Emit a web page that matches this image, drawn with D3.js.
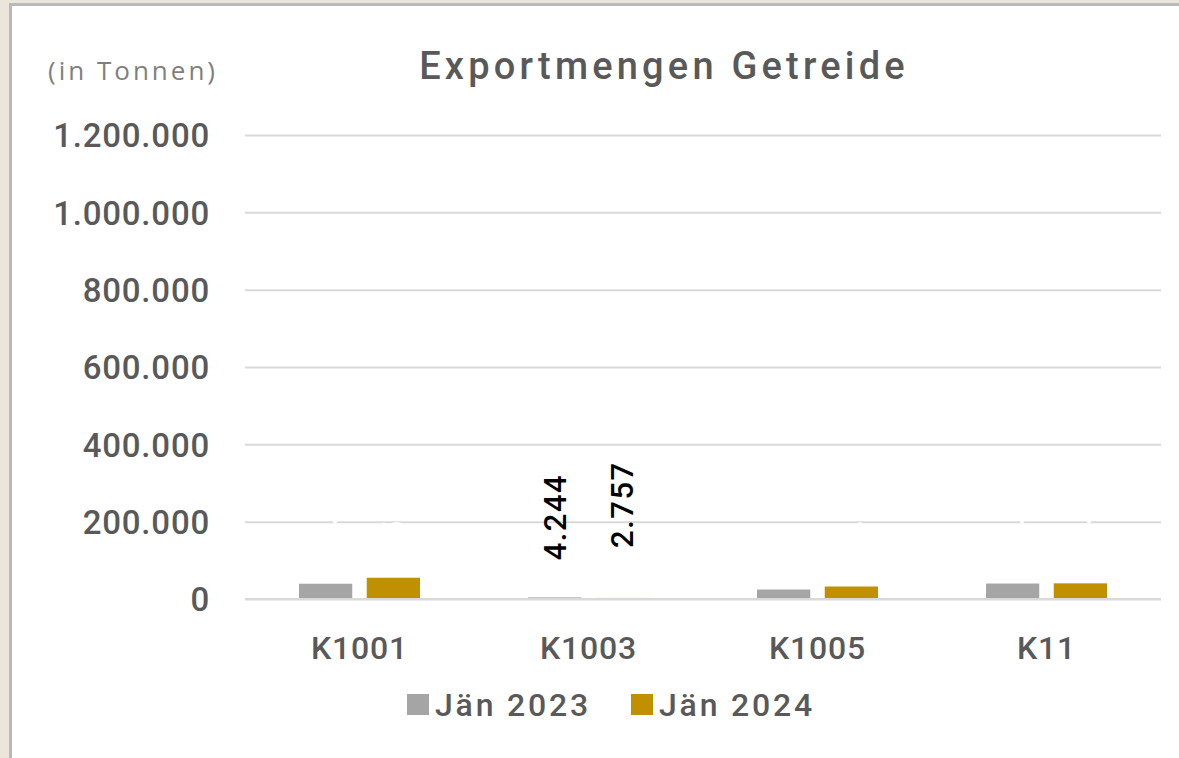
<!DOCTYPE html>
<html><head><meta charset="utf-8">
<script src="https://cdn.jsdelivr.net/npm/d3@7"></script>
<style>
html,body{margin:0;padding:0;background:#ece5db;}
svg{display:block;}
</style></head>
<body>
<script>
const categories = ["K1001", "K1003", "K1005", "K11"];
const seriesNames = ["Jän 2023", "Jän 2024"];
const values2023 = [39500, 4244, 24500, 40000];
const values2024 = [55000, 2757, 32300, 40500];
const yTicks = [0, 200000, 400000, 600000, 800000, 1000000, 1200000];
const labelColors = ["#ffffff", "#000000", "#ffffff", "#ffffff"];

const W = 1179, H = 758;
const colors = ["#a5a5a5", "#c09000"];
const svg = d3.select("body").append("svg").attr("width", W).attr("height", H);

// frame
svg.append("rect").attr("x", 0).attr("y", 0).attr("width", W).attr("height", H).attr("fill", "#ece5db");
svg.append("rect").attr("x", 10.5).attr("y", 4.5).attr("width", W).attr("height", H).attr("fill", "#ffffff")
  .attr("stroke", "#b9b9b9").attr("stroke-width", 3);

const x0 = d3.scaleBand().domain(categories).range([245, 1161]).paddingInner(0).paddingOuter(0);
const x1 = d3.scaleBand().domain(seriesNames).range([0, x0.bandwidth()]).paddingInner(0.214).paddingOuter(0.797);
const y = d3.scaleLinear().domain([0, 1200000]).range([599, 135]);

const fmt = d3.formatLocale({decimal: ",", thousands: ".", grouping: [3], currency: ["", "€"]}).format(",d");

const data = categories.map((c, i) => ({cat: c, vals: [values2023[i], values2024[i]], lc: labelColors[i]}));

// gridlines + y axis labels
const yAxis = d3.axisLeft(y).tickValues(yTicks).tickSize(-(1161 - 245)).tickFormat(fmt).tickPadding(36);
const gy = svg.append("g").attr("transform", "translate(245,0)").call(yAxis);
gy.select(".domain").remove();
gy.selectAll(".tick line").attr("stroke", "#d9d9d9").attr("stroke-width", 2);
gy.selectAll(".tick text").attr("fill", "#595959").style("font-family", "Roboto").style("font-size", "33px")
  .style("font-weight", "500").style("letter-spacing", "0.8px").attr("dx", "1px").attr("dy", "0.36em");

// bars
const labelOffsets = [37, 50];
const g = svg.append("g");
data.forEach(d => {
  d.vals.forEach((v, s) => {
    const bx = x0(d.cat) + x1(seriesNames[s]);
    g.append("rect").attr("x", bx).attr("y", y(v)).attr("width", x1.bandwidth())
      .attr("height", y(0) - y(v)).attr("fill", colors[s]);
  });
});
// x baseline
svg.append("line").attr("x1", 245).attr("x2", 1161).attr("y1", y(0)).attr("y2", y(0))
  .attr("stroke", "#d9d9d9").attr("stroke-width", 2);
// data labels
data.forEach(d => {
  d.vals.forEach((v, s) => {
    const cx = x0(d.cat) + x1(seriesNames[s]) + x1.bandwidth() / 2;
    const ly = y(v) - (d.lc === "#ffffff" ? 20 : labelOffsets[s]);
    svg.append("text").attr("transform", `translate(${cx + 11},${ly}) rotate(-90)`)
      .attr("text-anchor", "start").attr("fill", d.lc)
      .style("font-family", "Roboto").style("font-size", "31px").style("font-weight", "500").style("letter-spacing", "1.5px")
      .text(fmt(v));
  });
});

// x axis labels
const xAxis = d3.axisBottom(x0).tickSize(0).tickPadding(0);
const gx = svg.append("g").attr("transform", "translate(0,636)").call(xAxis);
gx.select(".domain").remove();
gx.selectAll(".tick text").attr("fill", "#595959").style("font-family", "Roboto").style("font-size", "32px")
  .style("font-weight", "500").style("letter-spacing", "0.8px").attr("dy", "0.71em");

// title
svg.append("text").attr("x", 664).attr("y", 79).attr("text-anchor", "middle").attr("fill", "#595959")
  .style("font-family", "Roboto").style("font-size", "38px").style("font-weight", "500").style("letter-spacing", "4.2px")
  .text("Exportmengen Getreide");
svg.append("text").attr("x", 48).attr("y", 80).attr("fill", "#7f7f7f")
  .style("font-family", "'Open Sans'").style("font-size", "26px").style("letter-spacing", "3px")
  .text("(in Tonnen)");

// legend
const legendX = [407, 631];
seriesNames.forEach((n, i) => {
  svg.append("rect").attr("x", legendX[i]).attr("y", 694).attr("width", 22).attr("height", 21).attr("fill", colors[i]);
  svg.append("text").attr("x", legendX[i] + 28).attr("y", 716).attr("fill", "#595959")
    .style("font-family", "Roboto").style("font-size", "32px").style("font-weight", "500").style("letter-spacing", "2.8px")
    .text(n);
});
</script>
</body></html>
